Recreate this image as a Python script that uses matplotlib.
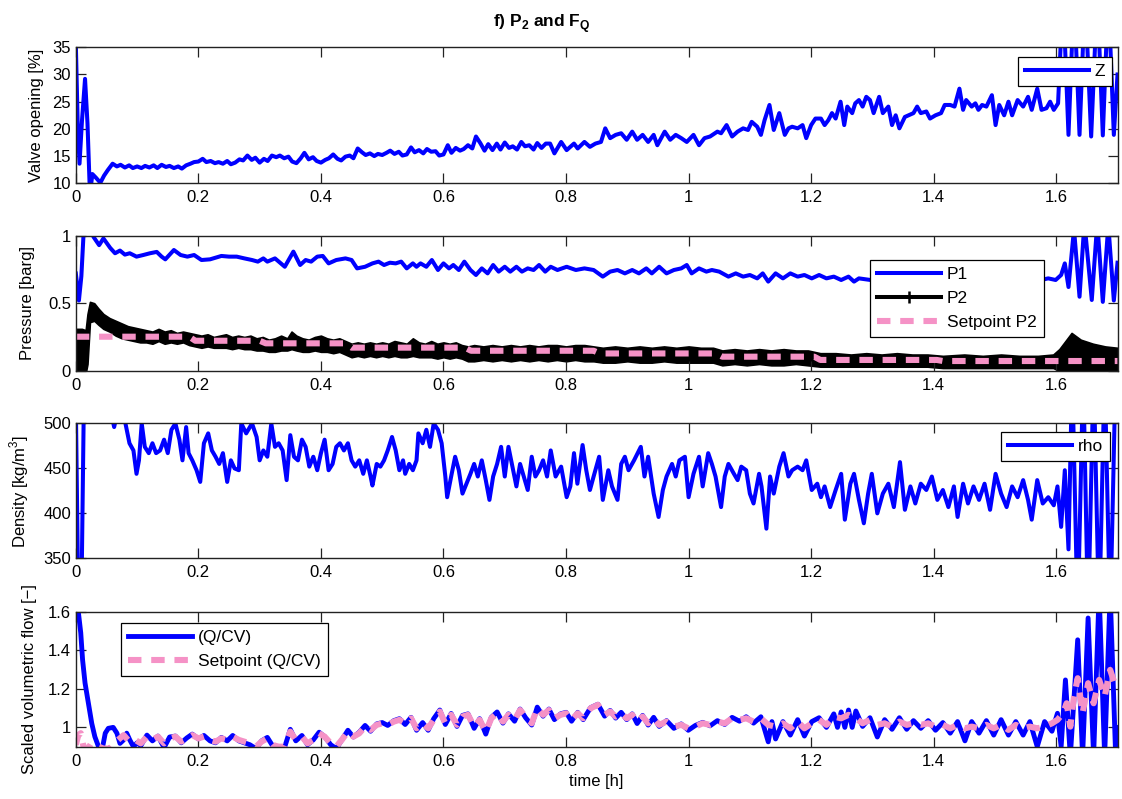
import numpy as np
import matplotlib
matplotlib.use("Agg")
import matplotlib.pyplot as plt
from matplotlib.lines import Line2D

plt.rcParams["font.family"] = ["Liberation Sans", "DejaVu Sans"]
plt.rcParams["mathtext.fontset"] = "custom"
plt.rcParams["mathtext.rm"] = "Liberation Sans"
plt.rcParams["mathtext.bf"] = "Liberation Sans:bold"

# ---------------------------------------------------------------- data
TIME_LIMITS = (0.0, 1.7)
TIME_TICKS = [0.0, 0.2, 0.4, 0.6, 0.8, 1.0, 1.2, 1.4, 1.6]
TIME_TICK_LABELS = ["0", "0.2", "0.4", "0.6", "0.8", "1", "1.2", "1.4", "1.6"]

# valve opening Z [%]  (time [h], value)
Z_READINGS = [
    (0.000, 35.5), (0.003, 21.0), (0.006, 13.6), (0.010, 21.5), (0.015, 29.2), (0.019, 21.0),
    (0.023, 8.0), (0.027, 11.7), (0.033, 11.0), (0.040, 10.1), (0.046, 11.4), (0.052, 12.4),
    (0.060, 13.6), (0.067, 13.1), (0.073, 13.4), (0.080, 12.9), (0.087, 13.3), (0.093, 12.8),
    (0.100, 13.1), (0.107, 12.8), (0.113, 13.2), (0.120, 12.9), (0.127, 13.3), (0.133, 12.8),
    (0.140, 13.4), (0.147, 13.0), (0.153, 13.2), (0.160, 12.8), (0.167, 13.1), (0.173, 12.7),
    (0.180, 13.3), (0.187, 13.6), (0.193, 13.9), (0.200, 14.0), (0.207, 14.5), (0.213, 13.9),
    (0.220, 14.1), (0.227, 13.7), (0.233, 13.9), (0.240, 13.6), (0.247, 14.1), (0.253, 13.5),
    (0.260, 13.8), (0.267, 14.4), (0.273, 14.2), (0.280, 15.1), (0.287, 14.3), (0.293, 14.7),
    (0.300, 13.8), (0.307, 14.5), (0.313, 14.1), (0.320, 15.1), (0.327, 14.8), (0.333, 15.1),
    (0.340, 14.6), (0.347, 14.9), (0.353, 14.0), (0.360, 13.7), (0.367, 14.6), (0.373, 15.6),
    (0.380, 14.4), (0.387, 14.8), (0.393, 14.1), (0.400, 13.8), (0.407, 14.3), (0.413, 14.6),
    (0.420, 15.3), (0.427, 14.5), (0.433, 14.2), (0.440, 14.9), (0.447, 15.1), (0.453, 14.6),
    (0.460, 16.4), (0.467, 15.7), (0.473, 15.2), (0.480, 15.5), (0.487, 15.0), (0.493, 15.4),
    (0.500, 15.2), (0.507, 15.6), (0.513, 16.0), (0.520, 15.4), (0.527, 15.8), (0.533, 15.1),
    (0.540, 15.3), (0.547, 16.6), (0.553, 15.7), (0.560, 16.1), (0.567, 15.5), (0.573, 16.3),
    (0.580, 15.8), (0.587, 15.9), (0.593, 15.1), (0.600, 15.3), (0.607, 17.0), (0.613, 15.6),
    (0.620, 16.5), (0.627, 16.0), (0.633, 16.3), (0.640, 17.0), (0.647, 16.4), (0.653, 18.6),
    (0.660, 17.4), (0.667, 16.0), (0.673, 17.2), (0.680, 16.1), (0.687, 17.3), (0.693, 16.2),
    (0.700, 17.5), (0.707, 16.5), (0.713, 16.8), (0.720, 16.2), (0.727, 17.6), (0.733, 16.8),
    (0.740, 17.0), (0.747, 16.2), (0.753, 17.4), (0.760, 16.5), (0.767, 17.3), (0.774, 17.3),
    (0.781, 15.5), (0.792, 17.6), (0.801, 16.1), (0.813, 17.3), (0.819, 16.4), (0.830, 17.6),
    (0.839, 16.7), (0.848, 17.3), (0.857, 17.6), (0.864, 20.1), (0.872, 18.3), (0.881, 18.9),
    (0.890, 19.2), (0.899, 18.0), (0.908, 19.5), (0.916, 18.0), (0.925, 18.9), (0.934, 17.6),
    (0.943, 18.9), (0.949, 17.0), (0.961, 19.5), (0.970, 18.0), (0.979, 18.9), (0.988, 18.3),
    (0.997, 17.6), (1.008, 18.9), (1.017, 17.0), (1.026, 18.3), (1.035, 18.6), (1.047, 19.5),
    (1.053, 19.2), (1.062, 20.7), (1.071, 18.6), (1.080, 19.5), (1.089, 20.1), (1.097, 19.8),
    (1.103, 21.3), (1.112, 20.4), (1.118, 18.9), (1.124, 21.6), (1.132, 24.4), (1.139, 19.8),
    (1.148, 22.9), (1.157, 18.9), (1.163, 20.1), (1.169, 20.4), (1.178, 20.1), (1.186, 20.7),
    (1.192, 18.3), (1.200, 20.7), (1.207, 21.9), (1.216, 21.9), (1.222, 20.7), (1.228, 21.6),
    (1.234, 22.9), (1.240, 21.9), (1.248, 25.0), (1.254, 20.7), (1.259, 24.1), (1.267, 22.9),
    (1.272, 24.7), (1.278, 25.3), (1.284, 24.1), (1.290, 25.9), (1.296, 25.3), (1.302, 22.9),
    (1.311, 25.9), (1.317, 22.9), (1.326, 24.1), (1.332, 20.7), (1.338, 22.5), (1.344, 20.1),
    (1.353, 22.2), (1.359, 22.5), (1.367, 22.9), (1.373, 24.1), (1.379, 22.9), (1.388, 23.2),
    (1.394, 21.9), (1.403, 22.5), (1.412, 22.9), (1.418, 24.4), (1.427, 24.4), (1.434, 24.1),
    (1.442, 27.4), (1.448, 23.5), (1.453, 25.3), (1.462, 24.1), (1.468, 24.7), (1.473, 23.5),
    (1.479, 24.4), (1.486, 24.1), (1.495, 26.2), (1.501, 20.7), (1.507, 24.4), (1.515, 22.5),
    (1.522, 25.0), (1.528, 22.5), (1.537, 25.3), (1.546, 24.1), (1.554, 25.9), (1.560, 23.5),
    (1.569, 27.4), (1.576, 23.5), (1.584, 23.8), (1.590, 25.0), (1.596, 23.5), (1.603, 24.7),
    (1.611, 45.0), (1.620, 18.9), (1.629, 45.0), (1.638, 18.9), (1.647, 45.0), (1.657, 18.6),
    (1.667, 45.0), (1.676, 18.8), (1.685, 45.0), (1.694, 18.9), (1.700, 30.0),
]

# upstream pressure P1 [barg]
P1_READINGS = [
    (0.000, 0.72), (0.005, 0.52), (0.009, 0.70), (0.013, 1.05), (0.020, 1.10), (0.026, 1.02),
    (0.029, 0.99), (0.038, 0.93), (0.045, 0.98), (0.056, 0.91), (0.064, 0.87), (0.072, 0.89),
    (0.080, 0.86), (0.088, 0.87), (0.099, 0.845), (0.110, 0.857), (0.121, 0.87), (0.132, 0.88),
    (0.140, 0.845), (0.146, 0.825), (0.160, 0.894), (0.171, 0.857), (0.182, 0.845), (0.193, 0.857),
    (0.205, 0.82), (0.219, 0.825), (0.2375, 0.85), (0.250, 0.845), (0.2625, 0.845), (0.275, 0.832),
    (0.2875, 0.82), (0.297, 0.808), (0.306, 0.832), (0.3125, 0.808), (0.325, 0.832), (0.341, 0.77),
    (0.355, 0.882), (0.366, 0.783), (0.375, 0.82), (0.384, 0.808), (0.394, 0.845), (0.403, 0.85),
    (0.4125, 0.795), (0.425, 0.82), (0.440, 0.832), (0.450, 0.82), (0.459, 0.758), (0.472, 0.77),
    (0.484, 0.795), (0.494, 0.808), (0.503, 0.783), (0.5125, 0.80), (0.522, 0.795), (0.531, 0.808),
    (0.540, 0.758), (0.550, 0.795), (0.556, 0.77), (0.5625, 0.795), (0.572, 0.77), (0.581, 0.82),
    (0.591, 0.746), (0.600, 0.795), (0.609, 0.758), (0.616, 0.783), (0.625, 0.746), (0.634, 0.808),
    (0.644, 0.746), (0.653, 0.709), (0.6625, 0.758), (0.672, 0.721), (0.681, 0.783), (0.690, 0.734),
    (0.700, 0.77), (0.709, 0.734), (0.719, 0.77), (0.728, 0.734), (0.7375, 0.758), (0.747, 0.746),
    (0.756, 0.783), (0.766, 0.734), (0.775, 0.77), (0.786, 0.746), (0.801, 0.77), (0.816, 0.746),
    (0.830, 0.758), (0.845, 0.746), (0.860, 0.697), (0.872, 0.734), (0.884, 0.746), (0.896, 0.721),
    (0.908, 0.746), (0.919, 0.721), (0.931, 0.758), (0.940, 0.721), (0.952, 0.77), (0.964, 0.721),
    (0.976, 0.746), (0.988, 0.758), (0.997, 0.783), (1.005, 0.721), (1.017, 0.758), (1.029, 0.734),
    (1.038, 0.746), (1.050, 0.734), (1.065, 0.697), (1.077, 0.721), (1.089, 0.697), (1.100, 0.709),
    (1.112, 0.684), (1.121, 0.721), (1.130, 0.66), (1.142, 0.721), (1.154, 0.684), (1.166, 0.721),
    (1.178, 0.697), (1.189, 0.709), (1.201, 0.684), (1.213, 0.709), (1.225, 0.684), (1.237, 0.697),
    (1.249, 0.672), (1.261, 0.697), (1.270, 0.66), (1.278, 0.684), (1.300, 0.67), (1.330, 0.69),
    (1.360, 0.67), (1.390, 0.69), (1.420, 0.67), (1.450, 0.69), (1.480, 0.67), (1.510, 0.69),
    (1.540, 0.67), (1.575, 0.672), (1.587, 0.684), (1.599, 0.672), (1.608, 0.709), (1.614, 0.795),
    (1.620, 0.62), (1.629, 1.05), (1.638, 0.548), (1.646, 1.10), (1.658, 0.524), (1.667, 1.10),
    (1.676, 0.51), (1.685, 1.08), (1.694, 0.52), (1.700, 0.80),
]

# downstream pressure P2 [barg]: fast oscillation, (time, upper, lower) of the band
P2_BAND_READINGS = [
    (0.000, 0.31, -0.02), (0.005, 0.31, -0.05), (0.010, 0.31, -0.03), (0.016, 0.30, -0.02),
    (0.019, 0.42, 0.05), (0.023, 0.51, 0.36), (0.030, 0.50, 0.37), (0.037, 0.46, 0.34),
    (0.045, 0.42, 0.31), (0.055, 0.39, 0.29), (0.065, 0.37, 0.26), (0.075, 0.35, 0.24),
    (0.085, 0.33, 0.23), (0.095, 0.32, 0.22), (0.105, 0.31, 0.21), (0.115, 0.30, 0.21),
    (0.125, 0.29, 0.20), (0.135, 0.31, 0.22), (0.145, 0.29, 0.20), (0.155, 0.30, 0.21),
    (0.165, 0.28, 0.20), (0.175, 0.29, 0.21), (0.185, 0.28, 0.19), (0.195, 0.27, 0.18),
    (0.205, 0.26, 0.17), (0.215, 0.27, 0.18), (0.225, 0.25, 0.17), (0.235, 0.26, 0.17),
    (0.245, 0.27, 0.17), (0.255, 0.25, 0.16), (0.265, 0.26, 0.17), (0.275, 0.25, 0.16),
    (0.285, 0.26, 0.16), (0.295, 0.24, 0.15), (0.305, 0.25, 0.15), (0.315, 0.23, 0.14),
    (0.325, 0.24, 0.14), (0.335, 0.26, 0.15), (0.345, 0.24, 0.15), (0.352, 0.29, 0.16),
    (0.360, 0.26, 0.15), (0.370, 0.24, 0.14), (0.380, 0.23, 0.14), (0.390, 0.25, 0.15),
    (0.400, 0.26, 0.14), (0.410, 0.24, 0.14), (0.420, 0.23, 0.13), (0.430, 0.24, 0.14),
    (0.440, 0.22, 0.12), (0.450, 0.20, 0.10), (0.460, 0.21, 0.11), (0.470, 0.20, 0.10),
    (0.480, 0.21, 0.11), (0.490, 0.20, 0.10), (0.500, 0.21, 0.11), (0.510, 0.20, 0.10),
    (0.520, 0.22, 0.11), (0.530, 0.21, 0.10), (0.540, 0.20, 0.10), (0.550, 0.24, 0.11),
    (0.560, 0.21, 0.10), (0.570, 0.20, 0.10), (0.580, 0.22, 0.10), (0.590, 0.20, 0.09),
    (0.600, 0.21, 0.10), (0.610, 0.20, 0.09), (0.620, 0.21, 0.10), (0.630, 0.19, 0.09),
    (0.640, 0.18, 0.07), (0.650, 0.19, 0.07), (0.665, 0.18, 0.08), (0.680, 0.19, 0.07),
    (0.695, 0.18, 0.08), (0.710, 0.19, 0.07), (0.725, 0.18, 0.08), (0.740, 0.19, 0.07),
    (0.755, 0.18, 0.08), (0.770, 0.19, 0.07), (0.785, 0.19, 0.08), (0.800, 0.18, 0.07),
    (0.815, 0.19, 0.08), (0.830, 0.19, 0.07), (0.845, 0.18, 0.07), (0.860, 0.17, 0.06),
    (0.880, 0.18, 0.06), (0.900, 0.17, 0.07), (0.920, 0.18, 0.06), (0.940, 0.17, 0.06),
    (0.960, 0.18, 0.07), (0.980, 0.17, 0.06), (1.000, 0.18, 0.06), (1.020, 0.17, 0.06),
    (1.040, 0.17, 0.06), (1.055, 0.15, 0.04), (1.075, 0.16, 0.05), (1.095, 0.15, 0.04),
    (1.115, 0.16, 0.05), (1.135, 0.15, 0.04), (1.155, 0.16, 0.04), (1.175, 0.15, 0.05),
    (1.195, 0.15, 0.04), (1.215, 0.13, 0.03), (1.240, 0.13, 0.03), (1.265, 0.12, 0.03),
    (1.290, 0.13, 0.03), (1.315, 0.12, 0.03), (1.340, 0.13, 0.03), (1.365, 0.12, 0.03),
    (1.390, 0.12, 0.03), (1.415, 0.11, 0.02), (1.450, 0.12, 0.02), (1.480, 0.11, 0.02),
    (1.510, 0.12, 0.02), (1.540, 0.11, 0.02), (1.570, 0.11, 0.02), (1.595, 0.12, 0.02),
    (1.605, 0.16, 0.00), (1.615, 0.22, -0.02), (1.625, 0.28, -0.03), (1.640, 0.23, -0.03),
    (1.660, 0.20, -0.02), (1.680, 0.18, -0.02), (1.700, 0.17, -0.02),
]

# setpoint for P2 [barg]
P2_SETPOINT_READINGS = [
    (0.000, 0.252), (0.185, 0.252), (0.195, 0.222), (0.300, 0.222), (0.310, 0.203),
    (0.440, 0.203), (0.450, 0.171), (0.635, 0.171), (0.645, 0.148), (0.845, 0.148),
    (0.855, 0.128), (1.045, 0.128), (1.055, 0.104), (1.205, 0.104), (1.215, 0.080),
    (1.405, 0.080), (1.415, 0.072), (1.700, 0.072),
]

# density rho [kg/m3]
RHO_READINGS = [
    (0.000, 520), (0.004, 300), (0.009, 300), (0.013, 520), (0.030, 540), (0.058, 510),
    (0.0625, 496), (0.067, 510), (0.078, 510), (0.081, 500), (0.0875, 478), (0.094, 470),
    (0.099, 444), (0.103, 459), (0.1075, 500), (0.1125, 474), (0.119, 467), (0.125, 478),
    (0.131, 467), (0.1375, 470), (0.144, 482), (0.150, 467), (0.156, 493), (0.1625, 500),
    (0.169, 482), (0.174, 459), (0.180, 496), (0.184, 467), (0.190, 459), (0.197, 448),
    (0.203, 435), (0.209, 478), (0.216, 489), (0.222, 470), (0.228, 463), (0.234, 455),
    (0.240, 467), (0.247, 435), (0.253, 459), (0.259, 450), (0.266, 448), (0.270, 500),
    (0.278, 489), (0.2875, 500), (0.295, 485), (0.300, 459), (0.306, 470), (0.3125, 463),
    (0.319, 500), (0.325, 474), (0.331, 478), (0.3375, 470), (0.344, 437), (0.350, 487),
    (0.356, 463), (0.3625, 459), (0.369, 482), (0.375, 474), (0.381, 452), (0.3875, 463),
    (0.394, 448), (0.400, 467), (0.406, 482), (0.4125, 448), (0.419, 455), (0.425, 474),
    (0.431, 478), (0.4375, 470), (0.444, 478), (0.450, 459), (0.456, 452), (0.4625, 459),
    (0.469, 444), (0.475, 459), (0.481, 441), (0.484, 431), (0.491, 455), (0.497, 452),
    (0.503, 459), (0.509, 470), (0.516, 485), (0.522, 470), (0.528, 448), (0.534, 459),
    (0.5375, 444), (0.544, 455), (0.550, 448), (0.556, 459), (0.559, 489), (0.566, 478),
    (0.572, 493), (0.578, 474), (0.584, 500), (0.591, 493), (0.597, 478), (0.603, 441),
    (0.606, 418), (0.6125, 441), (0.619, 463), (0.625, 448), (0.631, 422), (0.6375, 433),
    (0.644, 444), (0.650, 455), (0.656, 441), (0.6625, 459), (0.669, 437), (0.675, 415),
    (0.681, 441), (0.6875, 455), (0.694, 474), (0.700, 441), (0.706, 474), (0.7125, 452),
    (0.719, 430), (0.725, 455), (0.731, 441), (0.7375, 426), (0.744, 463), (0.750, 441),
    (0.756, 448), (0.7625, 459), (0.769, 441), (0.775, 470), (0.783, 441), (0.792, 452),
    (0.801, 418), (0.807, 430), (0.813, 467), (0.8185, 433), (0.827, 476), (0.833, 448),
    (0.839, 426), (0.845, 441), (0.854, 463), (0.860, 415), (0.869, 448), (0.875, 430),
    (0.884, 415), (0.890, 455), (0.896, 463), (0.902, 448), (0.911, 459), (0.922, 474),
    (0.928, 441), (0.934, 463), (0.943, 422), (0.951, 396), (0.958, 426), (0.964, 441),
    (0.973, 455), (0.979, 441), (0.985, 459), (0.994, 463), (1.000, 418), (1.008, 444),
    (1.017, 463), (1.023, 430), (1.032, 467), (1.038, 455), (1.044, 441), (1.053, 407),
    (1.059, 441), (1.065, 455), (1.074, 444), (1.080, 437), (1.086, 452), (1.094, 448),
    (1.100, 422), (1.106, 411), (1.115, 444), (1.119, 430), (1.127, 383), (1.133, 441),
    (1.139, 422), (1.148, 452), (1.155, 467), (1.163, 441), (1.169, 448), (1.178, 452),
    (1.186, 448), (1.192, 459), (1.201, 426), (1.210, 433), (1.216, 418), (1.222, 430),
    (1.231, 407), (1.240, 426), (1.249, 444), (1.255, 393), (1.264, 433), (1.270, 444),
    (1.278, 415), (1.286, 389), (1.293, 422), (1.299, 444), (1.308, 400), (1.317, 422),
    (1.326, 433), (1.335, 407), (1.345, 457), (1.353, 404), (1.362, 430), (1.370, 411),
    (1.379, 433), (1.388, 426), (1.397, 441), (1.406, 415), (1.415, 426), (1.424, 407),
    (1.433, 430), (1.439, 396), (1.448, 433), (1.456, 411), (1.465, 430), (1.474, 415),
    (1.483, 433), (1.492, 404), (1.501, 444), (1.510, 422), (1.519, 407), (1.528, 430),
    (1.537, 418), (1.546, 437), (1.554, 415), (1.560, 393), (1.569, 437), (1.578, 411),
    (1.587, 418), (1.596, 409), (1.602, 430), (1.608, 385), (1.614, 448), (1.620, 360),
    (1.626, 560), (1.635, 280), (1.644, 560), (1.652, 280), (1.661, 560), (1.670, 280),
    (1.679, 560), (1.688, 280), (1.697, 560), (1.700, 520),
]

# scaled volumetric flow Q/CV [-]
QCV_READINGS = [
    (0.000, 1.62), (0.004, 1.60), (0.008, 1.49), (0.011, 1.35), (0.015, 1.23), (0.0205, 1.125),
    (0.026, 1.02), (0.031, 0.952), (0.037, 0.90), (0.042, 0.87), (0.048, 0.97), (0.053, 0.995),
    (0.061, 1.0), (0.067, 0.97), (0.072, 0.917), (0.078, 0.935), (0.083, 0.97), (0.088, 0.935),
    (0.094, 0.90), (0.100, 0.92), (0.106, 0.905), (0.116, 0.96), (0.125, 0.93), (0.134, 0.955),
    (0.144, 0.895), (0.153, 0.95), (0.1625, 0.955), (0.172, 0.92), (0.181, 0.945), (0.190, 0.965),
    (0.200, 0.94), (0.209, 0.958), (0.219, 0.93), (0.228, 0.92), (0.2375, 0.948), (0.247, 0.93),
    (0.256, 0.958), (0.266, 0.93), (0.275, 0.92), (0.284, 0.91), (0.294, 0.89), (0.303, 0.93),
    (0.3125, 0.948), (0.322, 0.90), (0.331, 0.89), (0.340, 0.89), (0.350, 0.99), (0.359, 0.93),
    (0.369, 0.958), (0.378, 0.91), (0.3875, 0.935), (0.397, 0.975), (0.406, 0.952), (0.416, 0.91),
    (0.425, 0.89), (0.434, 0.935), (0.444, 0.985), (0.453, 0.95), (0.4625, 0.975), (0.472, 1.01),
    (0.481, 0.98), (0.491, 1.018), (0.500, 1.025), (0.509, 1.01), (0.519, 1.035), (0.528, 1.045),
    (0.5375, 1.015), (0.547, 1.052), (0.556, 0.985), (0.566, 1.025), (0.575, 0.985), (0.584, 1.045),
    (0.594, 1.09), (0.603, 1.015), (0.6125, 1.072), (0.622, 1.005), (0.631, 1.062), (0.640, 1.07),
    (0.650, 0.995), (0.659, 1.045), (0.669, 0.965), (0.678, 1.052), (0.6875, 1.08), (0.697, 1.022),
    (0.706, 1.07), (0.716, 1.032), (0.725, 1.095), (0.734, 1.05), (0.744, 1.012), (0.753, 1.105),
    (0.7625, 1.058), (0.772, 1.095), (0.781, 1.04), (0.791, 1.07), (0.800, 1.078), (0.809, 1.032),
    (0.819, 1.078), (0.828, 1.04), (0.840, 1.102), (0.852, 1.12), (0.863, 1.058), (0.872, 1.088),
    (0.881, 1.048), (0.890, 1.078), (0.899, 1.04), (0.908, 1.07), (0.916, 1.02), (0.925, 1.062),
    (0.934, 1.012), (0.943, 1.052), (0.952, 1.005), (0.964, 1.035), (0.976, 0.995), (0.988, 1.018),
    (0.9995, 0.985), (1.011, 1.01), (1.023, 1.026), (1.035, 1.008), (1.047, 1.035), (1.059, 1.015),
    (1.071, 1.052), (1.083, 1.032), (1.094, 1.055), (1.106, 1.022), (1.118, 1.055), (1.130, 0.925),
    (1.136, 1.03), (1.142, 0.94), (1.154, 1.03), (1.166, 0.96), (1.178, 1.04), (1.189, 0.955),
    (1.201, 1.03), (1.213, 1.05), (1.225, 1.0), (1.237, 1.07), (1.243, 1.0), (1.249, 1.08),
    (1.255, 1.0), (1.261, 1.09), (1.267, 1.0), (1.273, 1.085), (1.284, 1.005), (1.296, 1.05),
    (1.308, 0.95), (1.320, 1.04), (1.332, 0.99), (1.344, 1.05), (1.356, 0.99), (1.367, 1.035),
    (1.379, 0.995), (1.391, 1.035), (1.403, 0.985), (1.415, 1.025), (1.427, 0.97), (1.439, 1.03),
    (1.451, 0.93), (1.462, 1.03), (1.474, 0.97), (1.486, 1.035), (1.498, 0.96), (1.510, 1.04),
    (1.522, 0.96), (1.534, 1.03), (1.546, 0.96), (1.557, 1.03), (1.569, 0.90), (1.581, 1.03),
    (1.593, 0.98), (1.602, 1.073), (1.608, 0.90), (1.615, 1.246), (1.623, 0.85), (1.635, 1.454),
    (1.643, 0.85), (1.652, 1.567), (1.661, 0.85), (1.670, 1.70), (1.679, 0.85), (1.688, 1.70),
    (1.697, 0.85), (1.700, 1.0),
]

# setpoint for Q/CV [-]
QCV_SETPOINT_READINGS = [
    (0.000, 0.91), (0.004, 0.96), (0.008, 0.97), (0.0125, 0.90), (0.020, 0.89), (0.025, 0.917),
    (0.034, 0.905), (0.045, 0.89), (0.055, 0.89), (0.069, 0.935), (0.078, 0.96), (0.0875, 0.926),
    (0.097, 0.935), (0.106, 0.917), (0.116, 0.952), (0.125, 0.935), (0.134, 0.952), (0.144, 0.917),
    (0.153, 0.943), (0.1625, 0.952), (0.172, 0.926), (0.181, 0.943), (0.190, 0.96), (0.200, 0.943),
    (0.209, 0.952), (0.219, 0.935), (0.228, 0.926), (0.2375, 0.943), (0.247, 0.935), (0.256, 0.952),
    (0.266, 0.935), (0.275, 0.926), (0.284, 0.917), (0.294, 0.90), (0.303, 0.926), (0.3125, 0.943),
    (0.322, 0.908), (0.331, 0.90), (0.340, 0.90), (0.350, 0.978), (0.359, 0.935), (0.369, 0.952),
    (0.378, 0.917), (0.3875, 0.935), (0.397, 0.969), (0.406, 0.952), (0.416, 0.917), (0.425, 0.90),
    (0.434, 0.935), (0.444, 0.978), (0.453, 0.952), (0.4625, 0.969), (0.472, 1.004), (0.481, 0.987),
    (0.491, 1.013), (0.500, 1.021), (0.509, 1.013), (0.519, 1.03), (0.528, 1.039), (0.5375, 1.021),
    (0.547, 1.047), (0.556, 0.995), (0.566, 1.021), (0.575, 0.995), (0.584, 1.039), (0.594, 1.082),
    (0.603, 1.021), (0.6125, 1.065), (0.622, 1.013), (0.631, 1.056), (0.640, 1.065), (0.650, 1.004),
    (0.659, 1.039), (0.669, 0.978), (0.678, 1.047), (0.6875, 1.073), (0.697, 1.03), (0.706, 1.065),
    (0.716, 1.039), (0.725, 1.09), (0.734, 1.056), (0.744, 1.021), (0.753, 1.099), (0.7625, 1.065),
    (0.772, 1.09), (0.781, 1.047), (0.791, 1.065), (0.800, 1.073), (0.809, 1.039), (0.819, 1.073),
    (0.828, 1.047), (0.840, 1.099), (0.852, 1.117), (0.863, 1.065), (0.872, 1.082), (0.881, 1.056),
    (0.890, 1.073), (0.899, 1.047), (0.908, 1.065), (0.916, 1.03), (0.925, 1.056), (0.934, 1.021),
    (0.943, 1.047), (0.952, 1.013), (0.964, 1.03), (0.976, 1.004), (0.988, 1.013), (0.9995, 0.995),
    (1.011, 1.004), (1.023, 1.021), (1.035, 1.013), (1.047, 1.03), (1.059, 1.021), (1.071, 1.047),
    (1.083, 1.039), (1.094, 1.047), (1.106, 1.03), (1.118, 1.047), (1.130, 1.013), (1.142, 1.004),
    (1.154, 1.021), (1.166, 0.995), (1.178, 1.03), (1.189, 0.995), (1.201, 1.021), (1.213, 1.039),
    (1.225, 1.013), (1.237, 1.056), (1.249, 1.047), (1.261, 1.065), (1.273, 1.047), (1.284, 1.021),
    (1.296, 1.039), (1.308, 1.013), (1.320, 1.021), (1.332, 1.004), (1.344, 1.03), (1.356, 1.013),
    (1.367, 1.021), (1.379, 1.013), (1.391, 1.021), (1.403, 1.004), (1.415, 1.013), (1.427, 0.995),
    (1.439, 1.013), (1.451, 0.995), (1.462, 1.004), (1.474, 0.995), (1.486, 1.013), (1.498, 0.995),
    (1.510, 1.013), (1.522, 0.987), (1.534, 1.013), (1.546, 0.995), (1.557, 1.004), (1.569, 0.995),
    (1.581, 1.004), (1.593, 1.021), (1.602, 1.039), (1.611, 1.073), (1.617, 1.125), (1.623, 1.004),
    (1.629, 1.16), (1.635, 1.255), (1.643, 1.073), (1.652, 1.229), (1.661, 1.125), (1.670, 1.246),
    (1.679, 1.16), (1.688, 1.298), (1.697, 1.212), (1.700, 1.23),
]

# axis ranges and tick labels of each panel
Z_LIMITS, Z_TICKS, Z_TICK_LABELS = (10, 35), [10, 15, 20, 25, 30, 35], ["10", "15", "20", "25", "30", "35"]
P_LIMITS, P_TICKS, P_TICK_LABELS = (0, 1), [0, 0.5, 1], ["0", "0.5", "1"]
RHO_LIMITS, RHO_TICKS, RHO_TICK_LABELS = (350, 500), [350, 400, 450, 500], ["350", "400", "450", "500"]
Q_LIMITS, Q_TICKS, Q_TICK_LABELS = (0.9, 1.6), [1.0, 1.2, 1.4, 1.6], ["1", "1.2", "1.4", "1.6"]


def columns(readings):
    arr = np.asarray(readings, dtype=float)
    return [arr[:, i] for i in range(arr.shape[1])]


# ---------------------------------------------------------------- style
BLUE = "#0000ff"
PINK = "#f592c6"
FS = 12
FS_LEGEND = 12.5
LW_BLUE = 2.9
LW_PINK = 4.4
PINK_DASH = (2.2, 1.6)


def style_axes(ax, ylim, yticks, yticklabels, ylabel, label_x):
    ax.set_xlim(*TIME_LIMITS)
    ax.set_ylim(*ylim)
    ax.set_xticks(TIME_TICKS)
    ax.set_xticklabels(TIME_TICK_LABELS)
    ax.set_yticks(yticks)
    ax.set_yticklabels(yticklabels)
    ax.tick_params(direction="in", top=True, right=True, length=7, width=0.9,
                   labelsize=FS, colors="#222222", labelcolor="black")
    ax.tick_params(axis="x", pad=5)
    ax.tick_params(axis="y", pad=3.5)
    for s in ax.spines.values():
        s.set_linewidth(1.0)
        s.set_color("#222222")
    ax.set_ylabel(ylabel, fontsize=FS)
    ax.yaxis.set_label_coords(label_x, 0.5)


def legend(ax, handles, labels, loc, anchor):
    leg = ax.legend(handles, labels, loc=loc, bbox_to_anchor=anchor, borderaxespad=0,
                    fontsize=FS_LEGEND, frameon=True, fancybox=False, framealpha=1,
                    edgecolor="black", handlelength=3.7, handletextpad=0.35,
                    borderpad=0.4, labelspacing=0.5)
    leg.get_frame().set_linewidth(0.9)
    leg.set_zorder(10)
    return leg


fig = plt.figure(figsize=(11.22, 7.99), dpi=100)
L, W = 0.0676, 0.9284
ax1 = fig.add_axes([L, 0.7706, W, 0.1702])
ax2 = fig.add_axes([L, 0.5360, W, 0.1690])
ax3 = fig.add_axes([L, 0.3012, W, 0.1688])
ax4 = fig.add_axes([L, 0.0655, W, 0.1690])

# panel 1: valve opening
t, v = columns(Z_READINGS)
h_z, = ax1.plot(t, v, color=BLUE, lw=LW_BLUE, solid_joinstyle="round")
style_axes(ax1, Z_LIMITS, Z_TICKS, Z_TICK_LABELS, "Valve opening [%]", -0.031)
legend(ax1, [h_z], ["Z"], "upper right", (0.995, 0.931))

# panel 2: pressures
t, v = columns(P1_READINGS)
h_p1, = ax2.plot(t, v, color=BLUE, lw=LW_BLUE, solid_joinstyle="round")
t, up, lo = columns(P2_BAND_READINGS)
ax2.fill_between(t, lo, up, color="black", lw=1.2, edgecolor="black")
t, v = columns(P2_SETPOINT_READINGS)
h_sp, = ax2.plot(t, v, color=PINK, lw=LW_PINK, dashes=PINK_DASH)
h_p2 = Line2D([], [], color="black", lw=2.9, marker="+", markersize=9, markeredgewidth=1.8)
style_axes(ax2, P_LIMITS, P_TICKS, P_TICK_LABELS, "Pressure [barg]", -0.039)
legend(ax2, [h_p1, h_p2, h_sp], ["P1", "P2", "Setpoint P2"], "upper right", (0.929, 0.82))

# panel 3: density
t, v = columns(RHO_READINGS)
h_rho, = ax3.plot(t, v, color=BLUE, lw=LW_BLUE, solid_joinstyle="round")
style_axes(ax3, RHO_LIMITS, RHO_TICKS, RHO_TICK_LABELS, "Density [kg/m$^3$]", -0.043)
legend(ax3, [h_rho], ["rho"], "upper right", (0.993, 0.939))

# panel 4: scaled volumetric flow
t, v = columns(QCV_READINGS)
h_q, = ax4.plot(t, v, color=BLUE, lw=LW_BLUE + 0.6, solid_joinstyle="round")
t, v = columns(QCV_SETPOINT_READINGS)
h_qs, = ax4.plot(t, v, color=PINK, lw=LW_PINK, dashes=PINK_DASH)
style_axes(ax4, Q_LIMITS, Q_TICKS, Q_TICK_LABELS, "Scaled volumetric flow [\u2212]", -0.037)
ax4.set_xlabel("time [h]", fontsize=FS, labelpad=4)
legend(ax4, [h_q, h_qs], ["(Q/CV)", "Setpoint (Q/CV)"], "upper left", (0.043, 0.918))

fig.text(0.483, 0.966, r"f) P$_\mathbf{2}$ and F$_\mathbf{Q}$", ha="center", va="baseline",
         fontsize=12.5, fontweight="bold")

fig.savefig("out.png", dpi=100)
